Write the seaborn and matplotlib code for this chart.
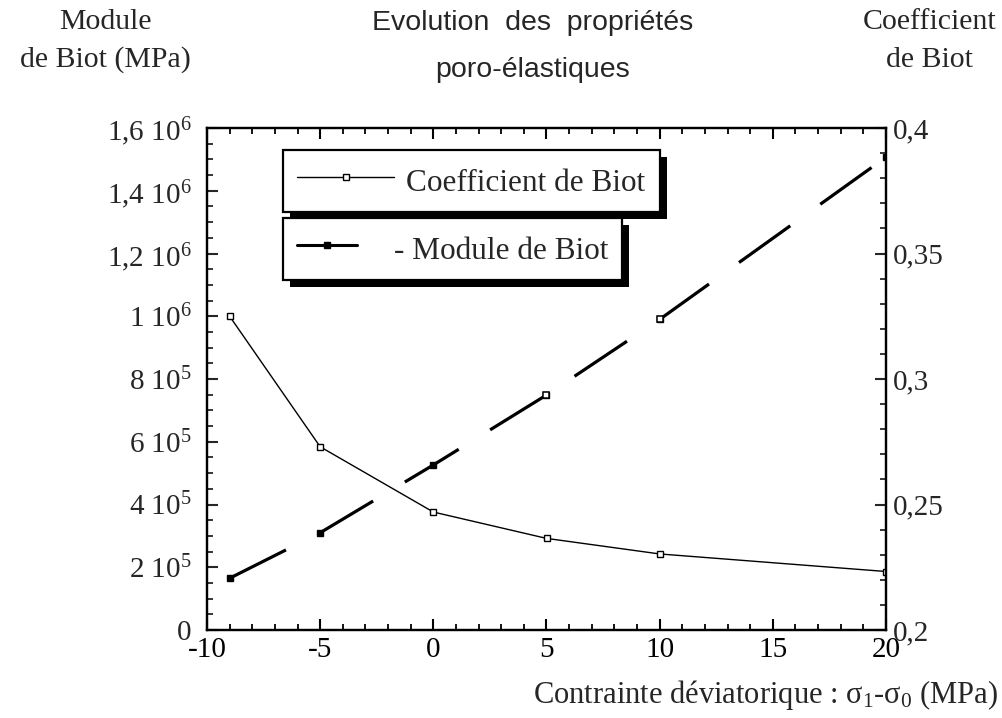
import numpy as np
import matplotlib
matplotlib.use("Agg")
import matplotlib.pyplot as plt
import seaborn as sns
from matplotlib.lines import Line2D
from matplotlib.patches import Rectangle
from matplotlib.legend_handler import HandlerLine2D
from matplotlib.ticker import MultipleLocator, FixedLocator

# --- data -------------------------------------------------------------
contrainte = [-9, -5, 0, 5, 10, 20]                      # sigma1 - sigma0 (MPa)
coef_biot = [0.325, 0.273, 0.247, 0.2365, 0.2303, 0.2233]  # coefficient de Biot
module_biot = [1.65e5, 3.10e5, 5.26e5, 7.49e5, 9.90e5, 1.507e6]  # module de Biot (MPa)

left_ticks = [0, 2e5, 4e5, 6e5, 8e5, 1e6, 1.2e6, 1.4e6, 1.6e6]
left_labels = ["0", "2 10$^5$", "4 10$^5$", "6 10$^5$", "8 10$^5$",
               "1 10$^6$", "1,2 10$^6$", "1,4 10$^6$", "1,6 10$^6$"]
right_ticks = [0.2, 0.25, 0.3, 0.35, 0.4]
right_labels = ["0,2", "0,25", "0,3", "0,35", "0,4"]
x_ticks = [-10, -5, 0, 5, 10, 15, 20]
x_labels = ["-10", "-5", "0", "5", "10", "15", "20"]

# --- style ------------------------------------------------------------
sns.set_theme(style="white")
plt.rcParams["font.family"] = ["Liberation Serif", "DejaVu Serif"]
plt.rcParams["mathtext.default"] = "regular"
plt.rcParams["axes.linewidth"] = 1.6

W, H = 1003, 718
fig = plt.figure(figsize=(W / 100, H / 100), dpi=100)
ax = fig.add_axes([207 / W, 1 - 630 / H, (886 - 207) / W, (630 - 128) / H])
ax2 = ax.twinx()

TICK_FS = 21
LABEL_FS = 21.5

# module de Biot: heavy long-dashed line on the left axis
lw_mod = 2.3
sns.lineplot(x=contrainte, y=module_biot, ax=ax, sort=False, estimator=None,
             color="black", linewidth=lw_mod,
             linestyle=(0, (45.4 / lw_mod, 26.6 / lw_mod)),
             marker="s", markersize=4.5, markerfacecolor="black",
             markeredgecolor="black", markeredgewidth=1)
ax.plot(contrainte[3:5], module_biot[3:5], ls="none", marker="s", ms=5,
        mfc="white", mec="black", mew=1.1, zorder=5)

# coefficient de Biot: thin solid line with open squares on the right axis
sns.lineplot(x=contrainte, y=coef_biot, ax=ax2, sort=False, estimator=None,
             color="black", linewidth=1.0,
             marker="s", markersize=4.5, markerfacecolor="white",
             markeredgecolor="black", markeredgewidth=1)

ax.set_xlim(-10, 20)
ax.set_ylim(0, 1.6e6)
ax2.set_ylim(0.2, 0.4)

ax.xaxis.set_major_locator(FixedLocator(x_ticks))
ax.set_xticklabels(x_labels)
ax.xaxis.set_minor_locator(MultipleLocator(1))
ax.yaxis.set_major_locator(FixedLocator(left_ticks))
ax.set_yticklabels(left_labels)
ax.yaxis.set_minor_locator(MultipleLocator(5e4))
ax2.yaxis.set_major_locator(FixedLocator(right_ticks))
ax2.set_yticklabels(right_labels)
ax2.yaxis.set_minor_locator(MultipleLocator(0.01))

ax.tick_params(axis="x", which="both", direction="in", top=True, bottom=True,
               colors="black", labelsize=TICK_FS, pad=5)
ax.tick_params(axis="y", which="both", direction="in", left=True, right=False,
               labelsize=TICK_FS, pad=11)
ax2.tick_params(axis="y", which="both", direction="in", right=True, left=False,
                labelsize=TICK_FS, pad=5)
for a in (ax, ax2):
    a.tick_params(which="major", length=8, width=1.5)
    a.tick_params(which="minor", length=4, width=1.3)
    a.set_xlabel("")
    a.set_ylabel("")
    for s in a.spines.values():
        s.set_color("black")
        s.set_linewidth(1.6)

# --- texts ------------------------------------------------------------
sans = ["Liberation Sans", "DejaVu Sans"]
fig.text(533 / W, 1 - 23 / H, "Evolution  des  propriétés", ha="center",
         va="center", fontsize=20.5, family=sans)
fig.text(533 / W, 1 - 70 / H, "poro-élastiques", ha="center", va="center",
         fontsize=20.5, family=sans)
fig.text(105 / W, 1 - 22 / H, "Module", ha="center", va="center",
         fontsize=LABEL_FS)
fig.text(105 / W, 1 - 60 / H, "de Biot (MPa)", ha="center", va="center",
         fontsize=LABEL_FS)
fig.text(930 / W, 1 - 22 / H, "Coefficient", ha="center", va="center",
         fontsize=LABEL_FS)
fig.text(930 / W, 1 - 60 / H, "de Biot", ha="center", va="center",
         fontsize=LABEL_FS)
fig.text(998 / W, 1 - 695 / H,
         "Contrainte déviatorique : σ$_1$-σ$_0$ (MPa)",
         ha="right", va="center", fontsize=22)


# --- legends ----------------------------------------------------------
class ShortLineHandler(HandlerLine2D):
    """Line that stops just past its marker, marker near the middle."""

    def get_xdata(self, legend, xdescent, ydescent, width, height, fontsize):
        xdata = np.array([-xdescent, -xdescent + 0.62 * width])
        return xdata, np.array([-xdescent + 0.5 * width])


h_coef = Line2D([], [], color="black", lw=1.0, marker="s", ms=4.5,
                mfc="white", mec="black", mew=1)
h_mod = Line2D([], [], color="black", lw=2.2, marker="s", ms=4.5,
               mfc="black", mec="black")

leg_kw = dict(loc="upper left", bbox_transform=fig.transFigure, frameon=True,
              fancybox=False, edgecolor="black", framealpha=1, borderaxespad=0,
              fontsize=22.5, handlelength=3.1, handleheight=1.2,
              borderpad=0.45, numpoints=1)
leg1 = fig.legend(handles=[h_coef], labels=["Coefficient de Biot"],
                  bbox_to_anchor=(283 / W, 1 - 150 / H), handletextpad=0.4,
                  **leg_kw)
leg2 = fig.legend(handles=[h_mod], labels=["- Module de Biot"],
                  bbox_to_anchor=(283 / W, 1 - 218 / H), handletextpad=0.0,
                  handler_map={h_mod: ShortLineHandler()}, **leg_kw)
for lg in (leg1, leg2):
    lg.get_frame().set_linewidth(1.6)
    lg.set_zorder(10)

fig.canvas.draw()
for lg in (leg1, leg2):
    bb = lg.get_window_extent()
    fig.add_artist(Rectangle((bb.x0 + 7, bb.y0 - 7), bb.width, bb.height,
                             transform=None, facecolor="black",
                             edgecolor="none", zorder=9))

fig.savefig("out.png", dpi=100)
